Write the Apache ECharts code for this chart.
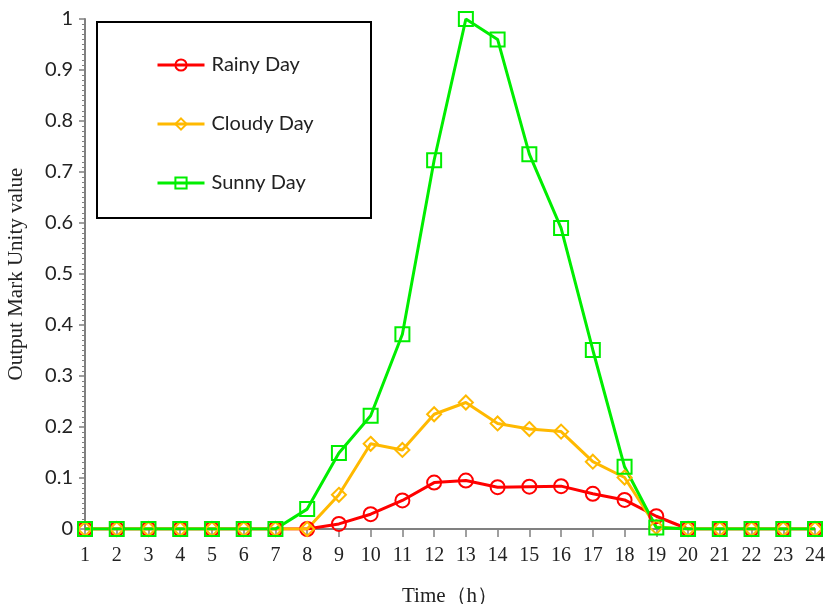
<!DOCTYPE html>
<html>
<head>
<meta charset="utf-8">
<script src="https://cdn.jsdelivr.net/npm/echarts@6/dist/echarts.min.js"></script>
<style>
  html, body { margin: 0; padding: 0; background: #fff; }
  #chart { width: 825px; height: 604px; }
</style>
</head>
<body>
<div id="chart"></div>
<script>
// Hours of the day (x axis)
const hours = [1,2,3,4,5,6,7,8,9,10,11,12,13,14,15,16,17,18,19,20,21,22,23,24];

// Output per hour for each weather type
const rainyDay  = [0,0,0,0,0,0,0,0,0.010,0.029,0.056,0.091,0.095,0.082,0.083,0.084,0.069,0.057,0.025,0,0,0,0,0];
const cloudyDay = [0,0,0,0,0,0,0,0,0.067,0.167,0.155,0.225,0.248,0.207,0.196,0.191,0.132,0.101,0.004,0,0,0,0,0];
const sunnyDay  = [0,0,0,0,0,0,0,0.039,0.149,0.222,0.382,0.723,1.0,0.960,0.735,0.590,0.351,0.122,0.003,0,0,0,0,0];

const seriesNames = ['Rainy Day', 'Cloudy Day', 'Sunny Day'];
const yTicks = [0, 0.1, 0.2, 0.3, 0.4, 0.5, 0.6, 0.7, 0.8, 0.9, 1];

const pairs = (vals) => hours.map((h, i) => [h, vals[i]]);

const chart = echarts.init(document.getElementById('chart'), null, { renderer: 'canvas' });

const axisGray = '#808080';
const labelFont = 'Lato, "Liberation Sans", sans-serif';
const serifFont = '"Liberation Serif", "DejaVu Serif", serif';

function lineSeries(name, vals, color, symbol) {
  return {
    name: name,
    type: 'line',
    data: pairs(vals),
    symbol: symbol,
    symbolSize: 14,
    showSymbol: true,
    lineStyle: { color: color, width: 3 },
    itemStyle: { color: 'rgba(255,255,255,0)', borderColor: color, borderWidth: 2 },
    emphasis: { disabled: true },
    animation: false
  };
}

chart.setOption({
  backgroundColor: '#ffffff',
  animation: false,
  grid: { left: 85, right: 10, top: 19, bottom: 75, containLabel: false, outerBoundsMode: 'none' },
  graphic: [{
    type: 'rect',
    z: 50,
    shape: { x: 97, y: 22, width: 274, height: 196 },
    style: { fill: '#ffffff', stroke: '#000000', lineWidth: 2 }
  }],
  legend: {
    z: 60,
    orient: 'vertical',
    left: 156,
    top: 55,
    itemWidth: 47,
    itemHeight: 14,
    itemGap: 39,
    padding: 0,
    data: seriesNames,
    lineStyle: { width: 3 },
    textStyle: { fontFamily: labelFont, fontSize: 20, color: '#222', padding: [0, 0, 0, 2] }
  },
  xAxis: {
    type: 'value',
    min: 1,
    max: 24,
    interval: 1,
    name: 'Time\uff08h\uff09',
    nameLocation: 'middle',
    nameGap: 57,
    nameTextStyle: { fontFamily: serifFont, fontSize: 21, color: '#222' },
    axisLine: { onZero: false, lineStyle: { color: axisGray, width: 2 } },
    axisTick: { show: true, length: 8, lineStyle: { color: axisGray, width: 1.5 } },
    axisLabel: {
      margin: 17,
      fontFamily: serifFont,
      fontSize: 20,
      color: '#222',
      formatter: (v) => hours.includes(v) ? String(v) : ''
    },
    splitLine: { show: false }
  },
  yAxis: {
    type: 'value',
    min: 0,
    max: 1,
    interval: 0.1,
    name: 'Output Mark Unity value',
    nameLocation: 'middle',
    nameGap: 58,
    nameTextStyle: { fontFamily: serifFont, fontSize: 21, color: '#222' },
    axisLine: { show: true, lineStyle: { color: axisGray, width: 2 } },
    axisTick: { show: true, length: 6, lineStyle: { color: axisGray, width: 1.5 } },
    minorTick: { show: true, splitNumber: 10, length: 3, lineStyle: { color: axisGray, width: 1 } },
    axisLabel: {
      margin: 12,
      fontFamily: labelFont,
      fontSize: 20,
      color: '#222',
      formatter: (v) => {
        const t = yTicks.find(k => Math.abs(k - v) < 1e-9);
        return t === undefined ? '' : String(t);
      }
    },
    splitLine: { show: false }
  },
  series: [
    lineSeries(seriesNames[0], rainyDay, '#ff0000', 'circle'),
    lineSeries(seriesNames[1], cloudyDay, '#ffb900', 'diamond'),
    lineSeries(seriesNames[2], sunnyDay, '#00ee00', 'rect')
  ]
});
</script>
</body>
</html>
